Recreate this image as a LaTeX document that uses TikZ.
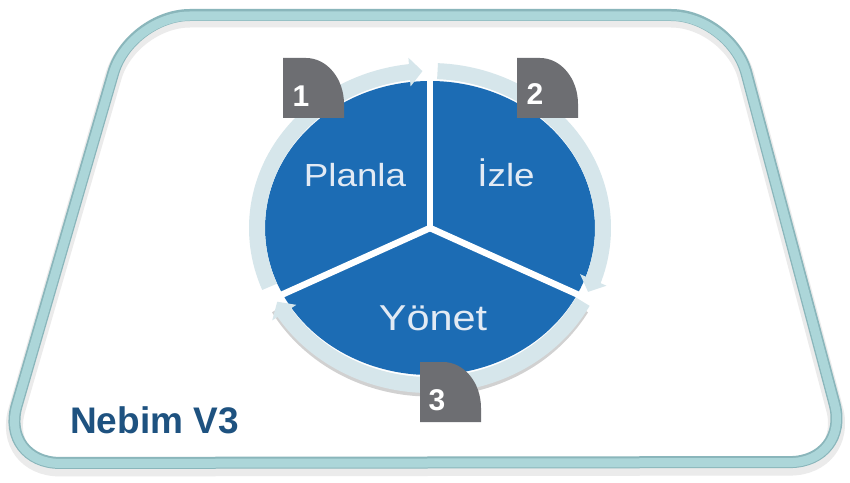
\documentclass[tikz,border=0pt]{standalone}
\usepackage{fontspec}
\setmainfont{Liberation Sans}
\usetikzlibrary{arrows.meta,bending}
\definecolor{pieblue}{RGB}{28,108,180}
\definecolor{ringc}{RGB}{214,230,235}
\definecolor{tabgray}{RGB}{109,110,114}
\definecolor{framec}{RGB}{172,214,217}
\definecolor{framedark}{RGB}{138,182,187}
\definecolor{nebimc}{RGB}{30,82,128}
\definecolor{lbltext}{RGB}{226,234,244}
\newcommand{\ntab}[2]{\fill[tabgray] (#1,#2) -- ++(0,60) -- ++(23,0) arc[start angle=90,end angle=0,x radius=38pt,y radius=46pt] -- ++(0,-14) -- cycle;}
\begin{document}
\begin{tikzpicture}[x=1pt,y=1pt,
  wedge/.style={fill=pieblue},
  divider/.style={draw=white,line width=6.5pt},
  ringarrow/.style={draw=ringc,line width=16pt,-{Triangle[width=28pt,length=13pt]}},
  lbl/.style={text=lbltext,inner sep=0pt,anchor=base,xscale=1.15},
  numlbl/.style={text=white,inner sep=0pt,anchor=base,font=\fontsize{30}{34}\selectfont\bfseries},
  framestyle/.style={rounded corners=60pt}]
\useasboundingbox (0,0) rectangle (850,482);
\fill[white] (0,0) rectangle (850,482);
% frame
\draw[framestyle,line width=17pt,black!8] (130,463) -- (731,463) -- (850,15) -- (0,14) -- cycle;
\draw[framestyle,line width=12pt,framedark] (130,467) -- (731,467) -- (850,20) -- (0,19) -- cycle;
\draw[framestyle,line width=9pt,framec] (130,466) -- (731,466) -- (850,19.5) -- (0,18.5) -- cycle;
% pie
\coordinate (c) at (430,254);
\fill[wedge] (c) -- ++(90:165 and 147) arc[start angle=90,end angle=206,x radius=165pt,y radius=147pt] -- cycle;
\fill[wedge] (c) -- ++(-26:165 and 147) arc[start angle=-26,end angle=90,x radius=165pt,y radius=147pt] -- cycle;
\fill[wedge] (c) -- ++(206:165 and 147) arc[start angle=206,end angle=334,x radius=165pt,y radius=147pt] -- cycle;
% ring shadow
\draw[black!18,line width=5pt] (c) ++(-30:180 and 166) arc[start angle=-30,end angle=-150,x radius=180pt,y radius=166pt];
% ring arrows
\draw[ringarrow] (c) ++(202:173 and 157) arc[start angle=202,end angle=92.5,x radius=173pt,y radius=157pt];
\draw[ringarrow] (c) ++(87.5:173 and 157) arc[start angle=87.5,end angle=-24,x radius=173pt,y radius=157pt];
\draw[ringarrow] (c) ++(-28:173 and 157) arc[start angle=-28,end angle=-152,x radius=173pt,y radius=157pt];
% dividers
\draw[divider] (c) -- ++(90:182 and 168);
\draw[divider] (c) -- ++(206:182 and 168);
\draw[divider] (c) -- ++(-26:182 and 168);
% labels
\node[lbl,font=\fontsize{32}{36}\selectfont] (planla) at (355,295) {Planla};
\node[lbl,font=\fontsize{32}{36}\selectfont] (izle) at (506,295) {İzle};
\node[lbl,font=\fontsize{36}{40}\selectfont] (yonet) at (433,152) {Yönet};
% number tabs
\ntab{283}{364}
\ntab{517}{364}
\ntab{420}{60}
\node[numlbl] (n1) at (301,375) {1};
\node[numlbl] (n2) at (535,377) {2};
\node[numlbl] (n3) at (437,72) {3};
% title
\node[text=nebimc,inner sep=0pt,anchor=base west,font=\fontsize{37}{40}\selectfont\bfseries] (nebim) at (70,49) {Nebim V3};
\end{tikzpicture}
\end{document}
